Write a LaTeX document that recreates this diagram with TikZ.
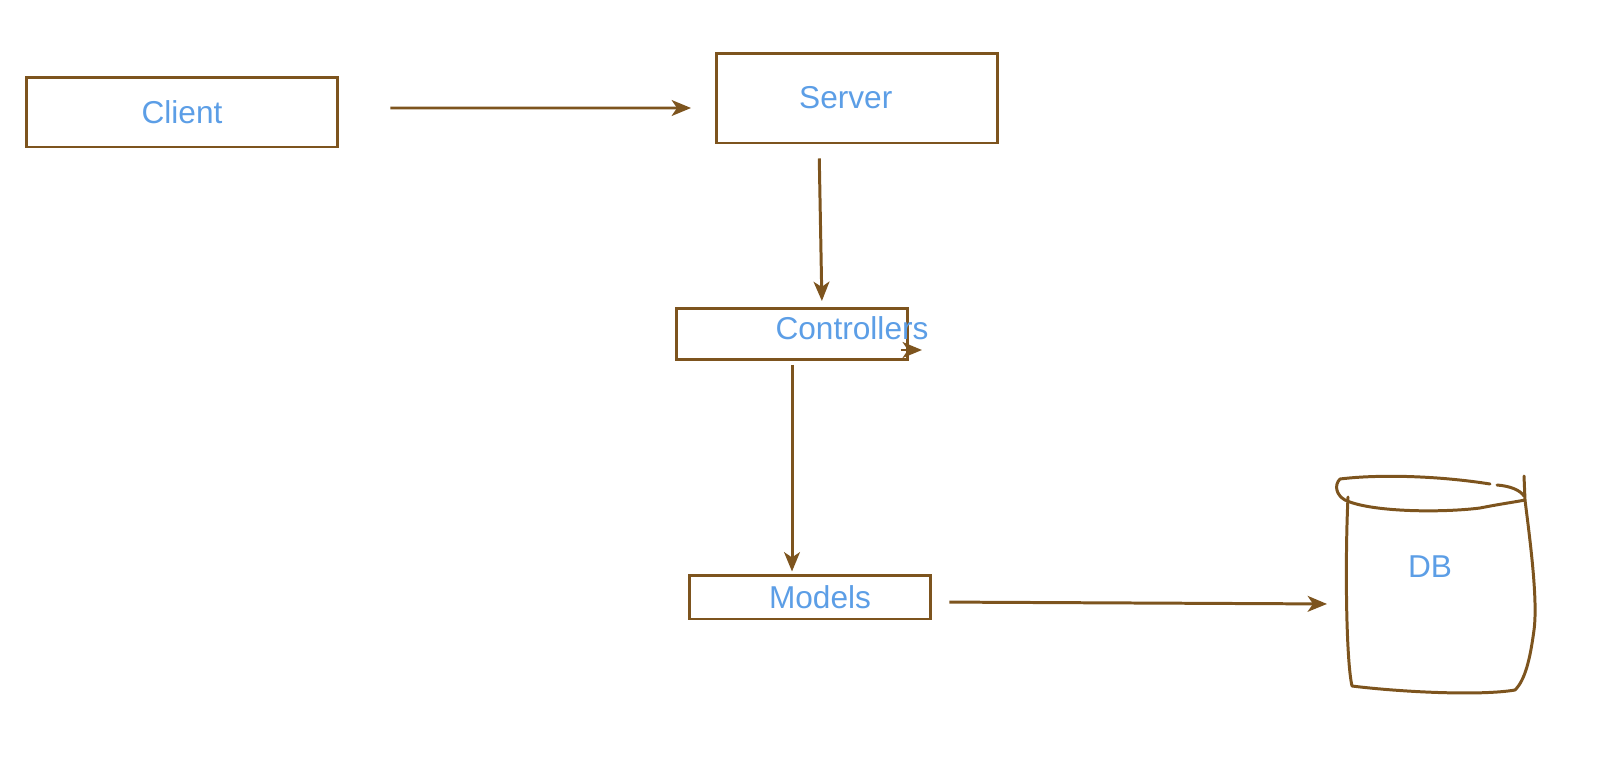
\documentclass[tikz,border=0pt]{standalone}
\usepackage{fontspec}
\setmainfont{Liberation Sans}
\usetikzlibrary{arrows.meta}
\definecolor{sketchbrown}{RGB}{125,84,30}
\definecolor{labelblue}{RGB}{92,158,230}
\tikzset{
  box/.style={draw=sketchbrown,line width=1.7pt,inner sep=0pt,text=labelblue,font=\fontsize{18}{20}\selectfont},
  txt/.style={inner sep=0pt,text=labelblue,font=\fontsize{18}{20}\selectfont},
  link/.style={->,sketchbrown,line width=1.7pt},
  >={Stealth[length=11pt,width=9pt,inset=3pt]}
}
\begin{document}
\begin{tikzpicture}[x=0.02cm,y=-0.02cm]
        \useasboundingbox (0,0) rectangle (1606,758);
        \node[box,minimum width=6.24cm,minimum height=1.4cm] (client) at (182,112) {Client};
        \node[box,minimum width=5.62cm,minimum height=1.8cm] (server) at (857,98) {\hspace{-0.45cm}Server};
        \node[box,minimum width=4.62cm,minimum height=1.02cm] (ctrl) at (792,334) {};
        \node[txt] (ctrltext) at (852,328) {Controllers};
        \node[box,minimum width=4.84cm,minimum height=0.88cm] (models) at (810,597) {\hspace{0.4cm}Models};
        \node[txt] (db) at (1430,567) {DB};
        \coordinate (dbin) at (1337,604);
        % connectors
        \draw[link,shorten <=1.02cm,shorten >=0.48cm] ([yshift=0.08cm]client.east) -- ([yshift=-0.2cm]server.west);
        \draw[link,shorten <=0.28cm,shorten >=0.12cm] ([xshift=-0.76cm]server.south) -- ([xshift=0.6cm]ctrl.north);
        \draw[link] ([xshift=-0.16cm,yshift=-0.32cm]ctrl.east) -- ++(0.42cm,0);
        \draw[link,shorten <=0.08cm,shorten >=0.04cm] (ctrl.south) -- (ctrl.south |- models.north);
        \draw[link,shorten <=0.34cm,shorten >=0.2cm] ([yshift=-0.1cm]models.east) -- (dbin);
        % hand drawn cylinder
        \draw[sketchbrown,line width=1.7pt,line cap=round,line join=round] (1490,484) .. controls (1440,476) and (1380,474) .. (1340,479) .. controls (1334,485) and (1336,495) .. (1345,500) .. controls (1370,512) and (1440,513) .. (1480,508) .. controls (1500,504) and (1515,502) .. (1525,500);
        \draw[sketchbrown,line width=1.7pt,line cap=round] (1497,485) .. controls (1510,486) and (1520,490) .. (1524,496);
        \draw[sketchbrown,line width=1.7pt,line cap=round,line join=round] (1524,476) -- (1525,500) .. controls (1530,540) and (1538,600) .. (1534,630) .. controls (1530,660) and (1525,680) .. (1515,690) .. controls (1480,696) and (1400,692) .. (1352,686) .. controls (1346,660) and (1345,560) .. (1348,497);
    \end{tikzpicture}
\end{document}
